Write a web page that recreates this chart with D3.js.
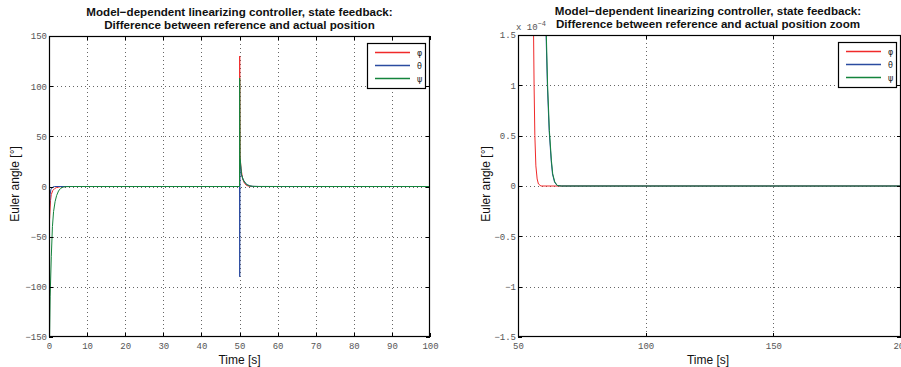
<!DOCTYPE html>
<html>
<head>
<meta charset="utf-8">
<script src="https://cdn.jsdelivr.net/npm/d3@7"></script>
<style>
  html, body { margin: 0; padding: 0; background: #fff; }
  svg { display: block; }
  .tick-label { font-family: "Liberation Mono", "DejaVu Sans Mono", monospace; font-size: 9px; fill: #555; }
  .title { font-family: "Liberation Sans", Arial, sans-serif; font-size: 11.6px; font-weight: bold; fill: #111; }
  .axis-label { font-family: "Liberation Sans", Arial, sans-serif; font-size: 12px; fill: #111; }
  .legend-label { font-family: "DejaVu Sans", sans-serif; font-size: 8px; fill: #222; }
</style>
</head>
<body>
<svg id="chart" width="901" height="367"></svg>
<script>
// Tracking error of the three Euler angles, [time s, error deg]
const phiSeries = [
  [0, -4], [0.15, -32], [0.4, -14], [0.6, -8], [1.0, -4], [1.5, -2], [2.0, -1], [3.0, -0.2], [5, 0],
  [50, 0], [50.05, 130], [50.15, 30], [50.4, 18], [50.8, 8], [51.2, 4], [51.7, 1.5], [52.3, 0.4],
  [53, 0.08], [54, 0.01], [55.9, 2.0e-4], [56.3, 1.0e-4], [56.6, 0.5e-4], [57, 0.2e-4],
  [57.5, 0.07e-4], [58, 0.02e-4], [59, 0], [200, 0]
];
const thetaSeries = [
  [0, -4], [0.1, -22], [0.3, -8], [0.5, -3], [1.0, -0.5], [1.5, 0],
  [50, 0], [50.05, -90], [50.15, 26], [50.5, 12], [51, 6.5], [51.5, 3.5], [52, 1.8], [52.7, 0.6],
  [53.5, 0.15], [55, 0.02], [58, 0.002], [60.9, 1.6e-4], [61.5, 1.0e-4], [62.2, 0.55e-4],
  [63, 0.25e-4], [63.5, 0.12e-4], [64.3, 0.04e-4], [65.3, 0.005e-4], [67, 0], [200, 0]
];
const psiSeries = [
  [0, 180], [0.08, -170], [0.3, -110], [0.6, -70], [0.9, -40], [1.2, -25], [1.6, -15], [2.0, -9],
  [2.5, -4.5], [3.0, -2], [3.7, -0.6], [4.5, -0.1], [6, 0],
  [50, 0], [50.05, 108], [50.15, 30], [50.5, 12], [51, 6.5], [51.5, 3.5], [52, 1.8], [52.7, 0.6],
  [53.5, 0.15], [55, 0.02], [58, 0.002], [61.0, 1.6e-4], [61.6, 1.0e-4], [62.3, 0.55e-4],
  [63.1, 0.25e-4], [63.6, 0.12e-4], [64.4, 0.04e-4], [65.4, 0.005e-4], [67, 0], [200, 0]
];

const seriesNames = ["\u03c6", "\u03b8", "\u03c8"];
const seriesColors = ["#f02a2a", "#2b4ba0", "#14843c"];

const titleLine1 = "Model\u2212dependent linearizing controller, state feedback:";
const titleLeft2 = "Difference between reference and actual position";
const titleRight2 = "Difference between reference and actual position zoom";

const leftXTicks = [0, 10, 20, 30, 40, 50, 60, 70, 80, 90, 100];
const leftYTicks = [-150, -100, -50, 0, 50, 100, 150];
const rightXTicks = [50, 100, 150, 200];
const rightYTicks = [-1.5e-4, -1e-4, -0.5e-4, 0, 0.5e-4, 1e-4, 1.5e-4];

const svg = d3.select("#chart");
const allSeries = [phiSeries, thetaSeries, psiSeries];

function panel(opts) {
  const x = d3.scaleLinear().domain(opts.xDomain).range(opts.xRange);
  const y = d3.scaleLinear().domain(opts.yDomain).range(opts.yRange);
  const g = svg.append("g");
  const [x0, x1] = opts.xRange;
  const [y0, y1] = opts.yRange; // y0 bottom, y1 top

  // dotted grid
  g.append("g").selectAll("line").data(opts.xTicks.filter(t => t > opts.xDomain[0] && t < opts.xDomain[1]))
    .join("line")
    .attr("x1", d => Math.round(x(d)) + 0.5).attr("x2", d => Math.round(x(d)) + 0.5)
    .attr("y1", y1).attr("y2", y0)
    .attr("stroke", "#666").attr("stroke-width", 1).attr("stroke-dasharray", "1,3");
  g.append("g").selectAll("line").data(opts.yTicks.filter(t => t > opts.yDomain[0] && t < opts.yDomain[1]))
    .join("line")
    .attr("y1", d => Math.round(y(d)) + 0.5).attr("y2", d => Math.round(y(d)) + 0.5)
    .attr("x1", x0).attr("x2", x1)
    .attr("stroke", "#666").attr("stroke-width", 1).attr("stroke-dasharray", "1,3");

  // data lines, clipped to the axes box
  const clipId = opts.id + "-clip";
  svg.append("clipPath").attr("id", clipId)
    .append("rect").attr("x", x0).attr("y", y1).attr("width", x1 - x0).attr("height", y0 - y1);
  const line = d3.line().x(d => x(d[0])).y(d => y(d[1]));
  g.append("g").attr("clip-path", `url(#${clipId})`)
    .selectAll("path").data(allSeries).join("path")
    .attr("d", d => line(d))
    .attr("fill", "none")
    .attr("stroke", (d, i) => seriesColors[i])
    .attr("stroke-width", 1)
    .attr("stroke-linejoin", "round");

  // axes with inward ticks
  const bottom = d3.axisBottom(x).tickValues(opts.xTicks).tickSize(0).tickPadding(0).tickFormat(opts.xFormat);
  const gb = g.append("g").attr("transform", `translate(0,${y0})`).call(bottom);
  gb.select(".domain").remove();
  gb.selectAll("text").attr("class", "tick-label").attr("dy", "0").attr("y", 12).attr("fill", null);

  const left = d3.axisLeft(y).tickValues(opts.yTicks).tickSize(0).tickPadding(0).tickFormat(opts.yFormat);
  const gl = g.append("g").attr("transform", `translate(${x0 - 1},0)`).call(left);
  gl.select(".domain").remove();
  gl.selectAll("text").attr("class", "tick-label").attr("dy", "0.32em").attr("x", -1).attr("fill", null);

  const tk = g.append("g").attr("stroke", "#000").attr("stroke-width", 1);
  opts.xTicks.forEach(t => {
    const xp = Math.round(x(t)) + 0.5;
    tk.append("line").attr("x1", xp).attr("x2", xp).attr("y1", y0).attr("y2", y0 - 4);
    tk.append("line").attr("x1", xp).attr("x2", xp).attr("y1", y1).attr("y2", y1 + 4);
  });
  opts.yTicks.forEach(t => {
    const yp = Math.round(y(t)) + 0.5;
    tk.append("line").attr("x1", x0).attr("x2", x0 + 4).attr("y1", yp).attr("y2", yp);
    tk.append("line").attr("x1", x1).attr("x2", x1 - 4).attr("y1", yp).attr("y2", yp);
  });

  // frame
  g.append("rect").attr("x", x0 + 0.5).attr("y", y1 + 0.5)
    .attr("width", x1 - x0 - 1).attr("height", y0 - y1 - 1)
    .attr("fill", "none").attr("stroke", "#000").attr("stroke-width", 1.2);

  // titles and labels
  const cx = (opts.titleCenter !== undefined) ? opts.titleCenter : (x0 + x1) / 2;
  g.append("text").attr("class", "title").attr("x", cx).attr("y", opts.titleY)
    .attr("text-anchor", "middle").text(titleLine1);
  g.append("text").attr("class", "title").attr("x", cx).attr("y", opts.titleY + 13)
    .attr("text-anchor", "middle").text(opts.title2);
  g.append("text").attr("class", "axis-label").attr("x", cx).attr("y", 364)
    .attr("text-anchor", "middle").text("Time [s]");
  g.append("text").attr("class", "axis-label")
    .attr("transform", `translate(${opts.yLabelX},184) rotate(-90)`)
    .attr("text-anchor", "middle").text("Euler angle [\u00b0]");

  // legend
  const lg = g.append("g").attr("transform", `translate(${x1 - 63},${y1 + 7})`);
  lg.append("rect").attr("x", 0.5).attr("y", 0.5).attr("width", 58).attr("height", 45)
    .attr("fill", "#fff").attr("stroke", "#000").attr("stroke-width", 1.2);
  seriesNames.forEach((name, i) => {
    const ly = 9.5 + i * 13;
    lg.append("line").attr("x1", 8).attr("x2", 43).attr("y1", ly).attr("y2", ly)
      .attr("stroke", seriesColors[i]).attr("stroke-width", 1.3);
    lg.append("text").attr("class", "legend-label").attr("x", 50).attr("y", ly + 3).text(name);
  });
  return { x, y, g };
}

panel({
  id: "left", xDomain: [0, 100], yDomain: [-150, 150],
  xRange: [49, 430], yRange: [337, 36],
  xTicks: leftXTicks, yTicks: leftYTicks,
  xFormat: d3.format("d"), yFormat: d => d < 0 ? "\u2212" + Math.abs(d) : String(d),
  title2: titleLeft2, titleY: 16, yLabelX: 19
});

const right = panel({
  id: "right", xDomain: [50, 200], yDomain: [-1.5e-4, 1.5e-4],
  xRange: [518, 901], yRange: [337, 35],
  xTicks: rightXTicks, yTicks: rightYTicks,
  xFormat: d3.format("d"),
  yFormat: d => { const v = Math.round(d / 1e-5) / 10; return v < 0 ? "\u2212" + Math.abs(v) : String(v); },
  title2: titleRight2, titleY: 15, yLabelX: 490, titleCenter: 708
});

// exponent multiplier above the zoomed y axis
const mult = right.g.append("text").attr("class", "tick-label").attr("x", 516).attr("y", 30);
mult.append("tspan").text("x 10");
mult.append("tspan").attr("dy", -4).attr("font-size", 7).text("\u22124");
</script>
</body>
</html>
